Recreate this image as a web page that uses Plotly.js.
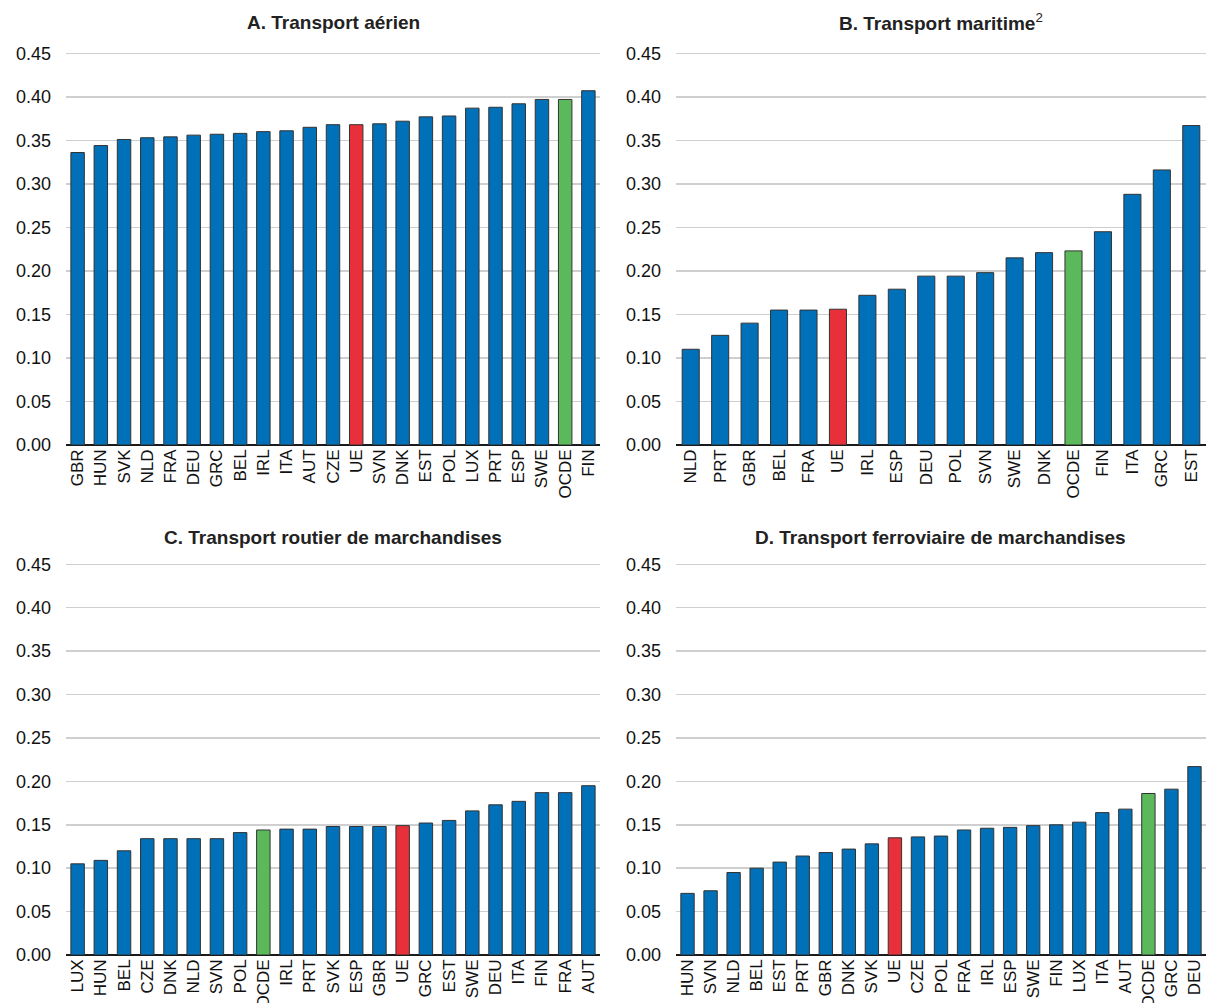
<!DOCTYPE html>
<html>
<head>
<meta charset="utf-8">
<script src="https://cdn.plot.ly/plotly-3.0.1.min.js"></script>
<style>
  html, body { margin: 0; padding: 0; background: #fff; }
  #chart { width: 1206px; height: 1003px; }
</style>
</head>
<body>
<div id="chart"></div>
<script>
// Panel A: air transport
const catsA = ["GBR","HUN","SVK","NLD","FRA","DEU","GRC","BEL","IRL","ITA","AUT","CZE","UE","SVN","DNK","EST","POL","LUX","PRT","ESP","SWE","OCDE","FIN"];
const valsA = [0.336,0.344,0.351,0.353,0.354,0.356,0.357,0.358,0.360,0.361,0.365,0.368,0.368,0.369,0.372,0.377,0.378,0.387,0.388,0.392,0.397,0.397,0.407];

// Panel B: maritime transport
const catsB = ["NLD","PRT","GBR","BEL","FRA","UE","IRL","ESP","DEU","POL","SVN","SWE","DNK","OCDE","FIN","ITA","GRC","EST"];
const valsB = [0.110,0.126,0.140,0.155,0.155,0.156,0.172,0.179,0.194,0.194,0.198,0.215,0.221,0.223,0.245,0.288,0.316,0.367];

// Panel C: road freight
const catsC = ["LUX","HUN","BEL","CZE","DNK","NLD","SVN","POL","OCDE","IRL","PRT","SVK","ESP","GBR","UE","GRC","EST","SWE","DEU","ITA","FIN","FRA","AUT"];
const valsC = [0.105,0.109,0.120,0.134,0.134,0.134,0.134,0.141,0.144,0.145,0.145,0.148,0.148,0.148,0.149,0.152,0.155,0.166,0.173,0.177,0.187,0.187,0.195];

// Panel D: rail freight
const catsD = ["HUN","SVN","NLD","BEL","EST","PRT","GBR","DNK","SVK","UE","CZE","POL","FRA","IRL","ESP","SWE","FIN","LUX","ITA","AUT","OCDE","GRC","DEU"];
const valsD = [0.071,0.074,0.095,0.100,0.107,0.114,0.118,0.122,0.128,0.135,0.136,0.137,0.144,0.146,0.147,0.149,0.150,0.153,0.164,0.168,0.186,0.191,0.217];

const yTicks = [0,0.05,0.10,0.15,0.20,0.25,0.30,0.35,0.40,0.45];
const yTickText = ["0.00","0.05","0.10","0.15","0.20","0.25","0.30","0.35","0.40","0.45"];

const panelTitles = [
  "<b>A. Transport aérien</b>",
  "<b>B. Transport maritime</b><span style=\"font-weight:normal\"><sup>2</sup></span>",
  "<b>C. Transport routier de marchandises</b>",
  "<b>D. Transport ferroviaire de marchandises</b>"
];

const BLUE = "#0070B8", RED = "#E8303A", GREEN = "#5BB85B";
const FONT = "'Liberation Sans', Arial, sans-serif";

function barColours(cats) {
  return cats.map(c => c === "UE" ? RED : (c === "OCDE" ? GREEN : BLUE));
}

const panels = [
  {cats: catsA, vals: valsA, ax: ""},
  {cats: catsB, vals: valsB, ax: "2"},
  {cats: catsC, vals: valsC, ax: "3"},
  {cats: catsD, vals: valsD, ax: "4"}
];

const traces = panels.map(p => ({
  type: "bar",
  x: p.cats,
  y: p.vals,
  xaxis: "x" + p.ax,
  yaxis: "y" + p.ax,
  marker: {color: barColours(p.cats), line: {color: "#333333", width: 1}},
  hoverinfo: "x+y"
}));

const W = 1206, H = 1003;
const colX = [[66 / W, 600 / W], [676 / W, 1]];
const rowY = [[1 - 445 / H, 1 - 52 / H], [1 - 955 / H, 1 - 563 / H]];

function xAxis(dom, anchor) {
  return {
    domain: dom, anchor: anchor, type: "category",
    tickangle: -90, showgrid: false, showline: false, ticks: "",
    tickfont: {family: FONT, size: 17, color: "#111"},
    fixedrange: true
  };
}
function yAxis(dom, anchor) {
  return {
    domain: dom, anchor: anchor, range: [0, 0.4515],
    tickvals: yTicks, ticktext: yTickText,
    showgrid: true, gridcolor: "#cfcfcf", gridwidth: 1.5,
    zeroline: true, zerolinecolor: "#1a1a1a", zerolinewidth: 2.2,
    showline: false, ticks: "", ticklabelstandoff: 14,
    tickfont: {family: FONT, size: 18, color: "#111"},
    fixedrange: true
  };
}

const titlePos = [
  {x: (66 + 600) / 2 / W, y: 1 - 22 / H},
  {x: (676 + 1206) / 2 / W, y: 1 - 22 / H},
  {x: (66 + 600) / 2 / W, y: 1 - 537 / H},
  {x: (676 + 1206) / 2 / W, y: 1 - 537 / H}
];

const layout = {
  width: W, height: H,
  margin: {l: 0, r: 0, t: 0, b: 0},
  paper_bgcolor: "#fff", plot_bgcolor: "#fff",
  showlegend: false,
  bargap: 0.42,
  font: {family: FONT, color: "#111"},
  xaxis:  xAxis(colX[0], "y"),
  yaxis:  yAxis(rowY[0], "x"),
  xaxis2: xAxis(colX[1], "y2"),
  yaxis2: yAxis(rowY[0], "x2"),
  xaxis3: xAxis(colX[0], "y3"),
  yaxis3: yAxis(rowY[1], "x3"),
  xaxis4: xAxis(colX[1], "y4"),
  yaxis4: yAxis(rowY[1], "x4"),
  annotations: panelTitles.map((t, i) => ({
    text: t, xref: "paper", yref: "paper",
    x: titlePos[i].x, y: titlePos[i].y,
    xanchor: "center", yanchor: "middle", showarrow: false,
    font: {family: FONT, size: 19, color: "#222"}
  }))
};

Plotly.newPlot("chart", traces, layout, {displayModeBar: false, staticPlot: true});
</script>
</body>
</html>
